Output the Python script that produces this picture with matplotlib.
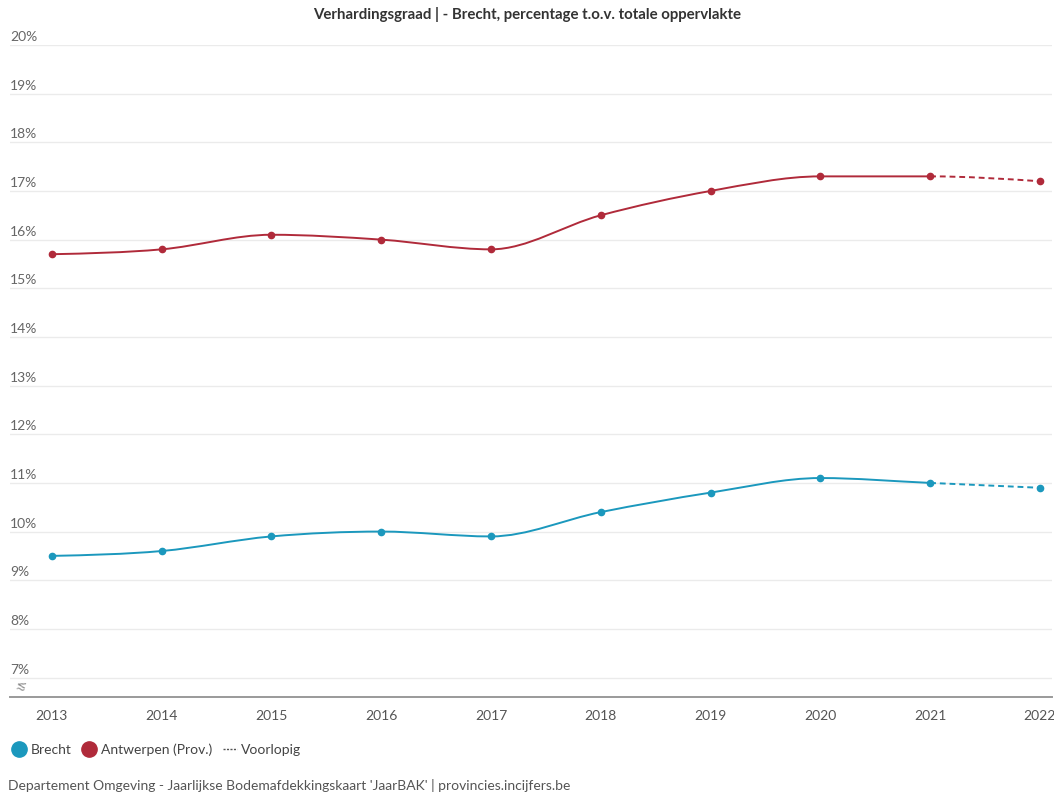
import numpy as np
import matplotlib
matplotlib.use("Agg")
from matplotlib import pyplot as plt
from matplotlib.path import Path
from matplotlib.patches import PathPatch
from matplotlib.lines import Line2D
import matplotlib.transforms as mtransforms

years = [2013, 2014, 2015, 2016, 2017, 2018, 2019, 2020, 2021, 2022]
brecht = [9.5, 9.6, 9.9, 10.0, 9.9, 10.4, 10.8, 11.1, 11.0, 10.9]
antwerpen = [15.7, 15.8, 16.1, 16.0, 15.8, 16.5, 17.0, 17.3, 17.3, 17.2]
ytick_vals = [7, 8, 9, 10, 11, 12, 13, 14, 15, 16, 17, 18, 19, 20]

title = "Verhardingsgraad | - Brecht, percentage t.o.v. totale oppervlakte"
footer = "Departement Omgeving - Jaarlijkse Bodemafdekkingskaart 'JaarBAK' | provincies.incijfers.be"

BLUE = "#1b98bd"
RED = "#b02a3a"
FONT = "Lato"
plt.rcParams['font.family'] = [FONT, 'DejaVu Sans']


def monotone_segments(x, y):
    # d3 curveMonotoneX style bezier control points
    x = np.asarray(x, float)
    y = np.asarray(y, float)
    n = len(x)
    h = np.diff(x)
    s = np.diff(y) / h
    t = np.zeros(n)
    for i in range(1, n - 1):
        h0, h1 = h[i - 1], h[i]
        s0, s1 = s[i - 1], s[i]
        p = (s0 * h1 + s1 * h0) / (h0 + h1)
        t[i] = (np.sign(s0) + np.sign(s1)) * min(abs(s0), abs(s1), 0.5 * abs(p))
    t[0] = (3 * s[0] - t[1]) / 2
    t[-1] = (3 * s[-1] - t[-2]) / 2
    segs = []
    for i in range(n - 1):
        dx = h[i] / 3
        segs.append([(x[i], y[i]), (x[i] + dx, y[i] + dx * t[i]),
                     (x[i + 1] - dx, y[i + 1] - dx * t[i + 1]), (x[i + 1], y[i + 1])])
    return segs


def seg_path(segs):
    verts = [segs[0][0]]
    codes = [Path.MOVETO]
    for sg in segs:
        verts += sg[1:]
        codes += [Path.CURVE4] * 3
    return Path(verts, codes)


fig = plt.figure(figsize=(10.54, 7.94), dpi=100)
ax = fig.add_axes([10 / 1054, 1 - 697 / 794, 1042 / 1054, (697 - 45) / 794])

for vals, color in [(brecht, BLUE), (antwerpen, RED)]:
    segs = monotone_segments(years, vals)
    ax.add_patch(PathPatch(seg_path(segs[:-1]), fill=False, edgecolor=color, lw=1.4, zorder=3))
    ax.add_patch(PathPatch(seg_path(segs[-1:]), fill=False, edgecolor=color, lw=1.4,
                           linestyle=(0, (3, 2)), zorder=3))
    ax.plot(years, vals, "o", color=color, ms=4.5, zorder=4)

ax.set_xlim(2012.62, 2022.11)
ax.set_ylim(6.6, 20)
ax.set_yticks(ytick_vals)
ax.grid(axis="y", color="#ebebeb", lw=1)
ax.set_axisbelow(True)
ax.tick_params(axis="y", length=0, labelleft=False)
ax.tick_params(axis="x", length=0, labelsize=10, labelcolor="#555555", pad=9)
ax.set_xticks(years)
for sp in ["top", "left", "right"]:
    ax.spines[sp].set_visible(False)
ax.spines["bottom"].set_color("#9a9a9a")
ax.spines["bottom"].set_linewidth(1.4)

trans = mtransforms.blended_transform_factory(ax.transAxes, ax.transData)
for v in ytick_vals:
    ax.text(0, v + 0.04, f"{v}%", transform=trans, ha="left", va="bottom", fontsize=10,
            color="#666666")
ax.text(0.011, 6.82, "\u2272", transform=trans, ha="center", va="center",
        fontsize=9, color="#888888", family="DejaVu Sans", rotation=-15)

fig.text(0.5, 1 - 14 / 794, title, ha="center", va="center", fontsize=10.8,
         fontweight="bold", color="#333333")

handles = [Line2D([], [], marker="o", ls="none", color=BLUE, ms=11),
           Line2D([], [], marker="o", ls="none", color=RED, ms=11),
           Line2D([], [], ls=(0, (1.5, 1)), color="#555555", lw=1)]
fig.legend(handles, ["Brecht", "Antwerpen (Prov.)", "Voorlopig"], loc="center left",
           bbox_to_anchor=(0.0, 1 - 750 / 794), ncol=3, frameon=False, fontsize=10,
           handlelength=1.0, handletextpad=0.3, columnspacing=0.8, labelcolor="#444444")
fig.text(8 / 1054, 1 - 785 / 794, footer, ha="left", va="center", fontsize=10,
         color="#555555")

fig.savefig("out.png", dpi=100)
